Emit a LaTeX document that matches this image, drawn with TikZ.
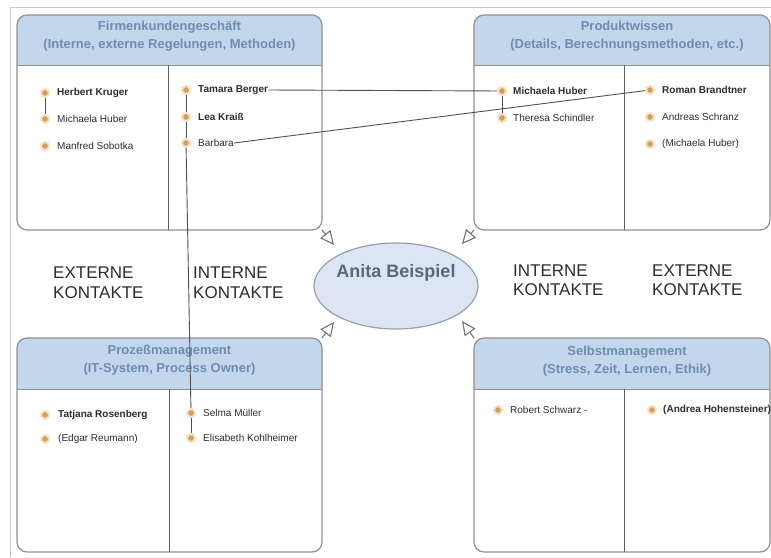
\documentclass[tikz,border=0pt]{standalone}
\usepackage{fontspec}
\setmainfont{Liberation Sans}
\usetikzlibrary{shapes.geometric,arrows.meta}
\definecolor{hdrfill}{RGB}{195,215,236}
\definecolor{hdrtxt}{RGB}{112,140,178}
\definecolor{boxcol}{RGB}{145,145,145}
\definecolor{divcol}{RGB}{95,95,95}
\definecolor{framecol}{RGB}{200,200,200}
\definecolor{ellfill}{RGB}{220,230,242}
\definecolor{ellcol}{RGB}{150,160,175}
\definecolor{anitacol}{RGB}{90,104,125}
\definecolor{labcol}{RGB}{45,45,45}
\definecolor{dotcol}{RGB}{205,160,100}
\definecolor{halocol}{RGB}{250,225,195}
\definecolor{conncol}{RGB}{80,80,80}
\definecolor{namecol}{RGB}{45,45,45}
\definecolor{arrcol}{RGB}{115,115,115}
\begin{document}
\begin{tikzpicture}[x=1pt,y=-1pt,
  kbox/.style={draw=boxcol,line width=1.2pt,rounded corners=10pt,inner sep=0,outer sep=0},
  hdrline/.style={draw=boxcol,line width=0.8pt},
  divline/.style={draw=divcol,line width=1pt},
  hdrtext/.style={align=center,inner sep=0,text=hdrtxt,font=\fontsize{13}{17.5}\selectfont\bfseries},
  dot/.style={circle,fill=dotcol,draw=halocol,line width=2pt,minimum size=8pt,inner sep=0},
  pname/.style={anchor=west,inner sep=0,text=namecol,font=\fontsize{10}{12}\selectfont},
  pbold/.style={pname,font=\fontsize{10}{12}\selectfont\bfseries},
  conn/.style={draw=conncol,line width=0.9pt},
  klabel/.style={anchor=west,align=left,inner sep=0,text=labcol,font=\fontsize{17}{19.5}\selectfont},
  oarrow/.style={draw=arrcol,line width=1.1pt,-{Triangle[open,length=14pt,width=13pt]}}
]
\useasboundingbox (0,0) rectangle (771,557);
\fill[white] (0,0) rectangle (771,557);
\draw[framecol,line width=1pt] (10,557) -- (10,7) -- (771,7);

% ---------- top left box ----------
\begin{scope}
\clip[rounded corners=10pt] (17,15) rectangle (322,230);
\fill[hdrfill] (17,15) rectangle (322,65);
\end{scope}
\node[kbox,minimum width=305pt,minimum height=215pt] (tl) at (169.5,122.5) {};
\draw[hdrline] (17,65) -- (322,65);
\draw[divline] (168,65) -- (168,230);
\node[hdrtext] (tlh) at (169.5,36) {Firmenkundengeschäft\\(Interne, externe Regelungen, Methoden)};

% ---------- top right box ----------
\begin{scope}
\clip[rounded corners=10pt] (474,15) rectangle (770,230);
\fill[hdrfill] (474,15) rectangle (770,65);
\end{scope}
\node[kbox,minimum width=296pt,minimum height=215pt] (tr) at (622,122.5) {};
\draw[hdrline] (474,65) -- (770,65);
\draw[divline] (624,65) -- (624,230);
\node[hdrtext] (trh) at (627,36) {Produktwissen\\(Details, Berechnungsmethoden, etc.)};

% ---------- bottom left box ----------
\begin{scope}
\clip[rounded corners=10pt] (17,338) rectangle (322,552);
\fill[hdrfill] (17,338) rectangle (322,389);
\end{scope}
\node[kbox,minimum width=305pt,minimum height=214pt] (bl) at (169.5,445) {};
\draw[hdrline] (17,389) -- (322,389);
\draw[divline] (169,389) -- (169,552);
\node[hdrtext] (blh) at (169.5,360) {Prozeßmanagement\\(IT-System, Process Owner)};

% ---------- bottom right box ----------
\begin{scope}
\clip[rounded corners=10pt] (474,338) rectangle (770,552);
\fill[hdrfill] (474,338) rectangle (770,389);
\end{scope}
\node[kbox,minimum width=296pt,minimum height=214pt] (br) at (622,445) {};
\draw[hdrline] (474,389) -- (770,389);
\draw[divline] (624,389) -- (624,552);
\node[hdrtext] (brh) at (627,361) {Selbstmanagement\\(Stress, Zeit, Lernen, Ethik)};

% ---------- centre ----------
\node[ellipse,draw=ellcol,fill=ellfill,line width=1.2pt,minimum width=164pt,minimum height=86pt,inner sep=0] (anita) at (396,286) {};
\node[inner sep=0,text=anitacol,font=\fontsize{18}{20}\selectfont\bfseries] (anitat) at (396,273) {Anita Beispiel};

\node[klabel] (ext1) at (53,282.5) {EXTERNE\\KONTAKTE};
\node[klabel] (int1) at (193,282.5) {INTERNE\\KONTAKTE};
\node[klabel] (int2) at (513,280) {INTERNE\\KONTAKTE};
\node[klabel] (ext2) at (652,280) {EXTERNE\\KONTAKTE};

\coordinate (a1) at (334,245);
\coordinate (a2) at (462,244);
\coordinate (a3) at (334,322);
\coordinate (a4) at (462,321);
\draw[oarrow] (tl.south east) -- (a1);
\draw[oarrow] (tr.south west) -- (a2);
\draw[oarrow] (bl.north east) -- (a3);
\draw[oarrow] (br.north west) -- (a4);

% ---------- people: top left ----------
\node[dot] (d1) at (45,93) {};  \node[pbold] (n1) at (57,93) {Herbert Kruger};
\node[dot] (d2) at (45,119) {}; \node[pname] (n2) at (57,119) {Michaela Huber};
\node[dot] (d3) at (45,146) {}; \node[pname] (n3) at (57,146) {Manfred Sobotka};
\node[dot] (d4) at (186,90) {};  \node[pbold] (n4) at (198,90) {Tamara Berger};
\node[dot] (d5) at (186,117) {}; \node[pbold] (n5) at (198,117) {Lea Kraiß};
\node[dot] (d6) at (186,143) {}; \node[pname] (n6) at (198,143) {Barbara};

% ---------- people: top right ----------
\node[dot] (d7) at (502,91) {};  \node[pbold] (n7) at (513,91) {Michaela Huber};
\node[dot] (d8) at (502,118) {}; \node[pname] (n8) at (513,118) {Theresa Schindler};
\node[dot] (d9) at (650,90) {};  \node[pbold] (n9) at (662,90) {Roman Brandtner};
\node[dot] (d10) at (650,117) {}; \node[pname] (n10) at (662,117) {Andreas Schranz};
\node[dot] (d11) at (650,144) {}; \node[pname] (n11) at (662,144) {(Michaela Huber)};

% ---------- people: bottom left ----------
\node[dot] (d12) at (45,415) {}; \node[pbold] (n12) at (58,415) {Tatjana Rosenberg};
\node[dot] (d13) at (45,439) {}; \node[pname] (n13) at (58,439) {(Edgar Reumann)};
\node[dot] (d14) at (191,413) {}; \node[pname] (n14) at (203,413) {Selma Müller};
\node[dot] (d15) at (191,438) {}; \node[pname] (n15) at (203,438) {Elisabeth Kohlheimer};

% ---------- people: bottom right ----------
\node[dot] (d16) at (498,410) {}; \node[pname] (n16) at (510,410) {Robert Schwarz -};
\node[dot] (d17) at (652,410) {}; \node[pbold] (n17) at (663,410) {(Andrea Hohensteiner)};

% ---------- connectors ----------
\draw[conn] (d1) -- (d2);
\draw[conn] (d4) -- (d5);
\draw[conn] (d5) -- (d6);
\draw[conn] (d6) -- (d14);
\draw[conn] (d14) -- (d15);
\draw[conn] (d7) -- (d8);
\draw[conn] (n4.east) -- (d7);
\draw[conn] (n6.east) -- (d9);
\end{tikzpicture}
\end{document}
